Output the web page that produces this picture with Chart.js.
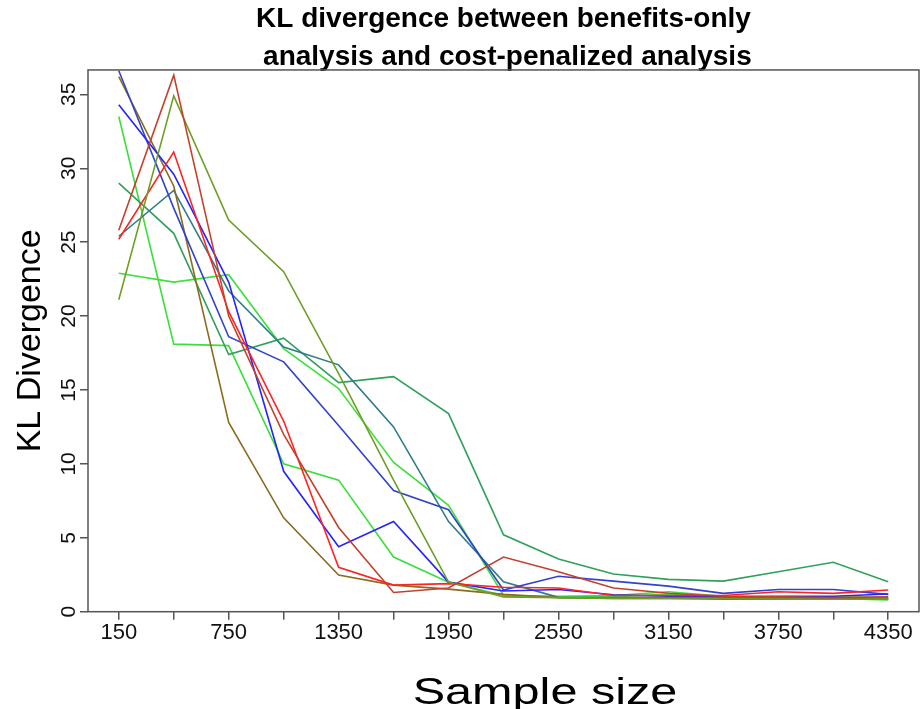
<!DOCTYPE html>
<html lang="en">
<head>
    <meta charset="UTF-8">
    <title>KL divergence</title>
    <script src="https://cdn.jsdelivr.net/npm/chart.js"></script>
    <style>
        body { margin: 0; background: #fff; }
        canvas { display: block; }
    </style>
</head>
<body>
    <canvas id="klChart" width="920" height="709"></canvas>

    <script>
        // sample sizes (x) and tick marks
        const sampleSizes = [150, 450, 750, 1050, 1350, 1650, 1950, 2250, 2550, 2850, 3150, 3450, 3750, 4050, 4350];
        const xLabelled = [150, 750, 1350, 1950, 2550, 3150, 3750, 4350];
        const yTicks = [0, 5, 10, 15, 20, 25, 30, 35];

        // one array per run
        const runFirebrick = [25.8, 36.3, 20.0, 12.0, 5.7, 1.3, 1.6, 3.7, 2.7, 1.6, 1.25, 1.05, 1.0, 0.95, 1.0];
        const runOlive     = [21.1, 34.9, 26.5, 23.0, 16.1, 8.9, 2.0, 1.0, 0.95, 0.9, 0.9, 0.9, 0.85, 0.85, 0.85];
        const runRed       = [25.2, 31.1, 20.3, 12.9, 3.0, 1.8, 1.9, 1.65, 1.6, 1.1, 1.1, 1.1, 1.35, 1.24, 1.47];
        const runBlue      = [34.3, 29.6, 22.3, 9.5, 4.4, 6.1, 2.0, 1.4, 1.5, 1.15, 1.05, 1.0, 1.05, 1.05, 1.2];
        const runRoyal     = [36.6, 27.3, 18.6, 16.9, 12.6, 8.2, 6.9, 1.47, 2.4, 2.07, 1.73, 1.24, 1.5, 1.5, 1.17];
        const runBrown     = [36.2, 28.8, 12.8, 6.35, 2.48, 1.8, 1.53, 1.17, 0.95, 0.9, 0.9, 0.85, 0.85, 0.85, 0.85];
        const runTeal      = [25.4, 28.5, 21.7, 17.9, 16.7, 12.5, 6.1, 2.03, 0.97, 0.95, 0.95, 0.9, 0.9, 0.9, 0.9];
        const runSeaGreen  = [29.0, 25.6, 17.4, 18.5, 15.5, 15.9, 13.4, 5.2, 3.56, 2.55, 2.19, 2.07, 2.7, 3.34, 2.03];
        const runLimeA     = [33.5, 18.1, 18.0, 10.0, 8.9, 3.7, 2.0, 1.1, 1.0, 1.0, 1.2, 1.0, 0.95, 0.9, 0.8];
        const runLimeB     = [22.9, 22.3, 22.8, 17.8, 15.1, 10.1, 7.2, 1.1, 1.05, 1.1, 1.35, 1.05, 1.0, 1.0, 0.95];

        const runs = [
            { data: runFirebrick, color: '#C4402B' },
            { data: runOlive, color: '#6E9E26' },
            { data: runRed, color: '#FF2424' },
            { data: runBlue, color: '#2424FF' },
            { data: runRoyal, color: '#3043CC' },
            { data: runBrown, color: '#8C6B1F' },
            { data: runTeal, color: '#2F7C8A' },
            { data: runSeaGreen, color: '#30A05C' },
            { data: runLimeA, color: '#3ADF3A' },
            { data: runLimeB, color: '#3EE03E' }
        ];

        const fontFamily = '"Liberation Sans", Arial, Helvetica, sans-serif';

        // frame around plot, rotated y tick labels and the wide x label (R style)
        const rFrame = {
            id: 'rFrame',
            afterDraw(chart) {
                const { ctx, chartArea: a, scales: { y } } = chart;
                ctx.save();
                ctx.strokeStyle = '#555';
                ctx.lineWidth = 1.5;
                ctx.strokeRect(a.left, a.top, a.right - a.left, a.bottom - a.top);
                ctx.fillStyle = '#111';
                ctx.font = '21px ' + fontFamily;
                ctx.textAlign = 'center';
                ctx.textBaseline = 'alphabetic';
                y.ticks.forEach(t => {
                    const py = y.getPixelForValue(t.value);
                    ctx.save();
                    ctx.translate(a.left - 13, py);
                    ctx.rotate(-Math.PI / 2);
                    ctx.fillText(String(t.value), 0, 0);
                    ctx.restore();
                });

                // x axis label, stretched like the original export
                ctx.fillStyle = '#000';
                ctx.font = '36px ' + fontFamily;
                ctx.translate(545, 704);
                ctx.scale(1.35, 1);
                ctx.fillText('Sample size', 0, 0);
                ctx.restore();
            }
        };

        const ctx = document.getElementById('klChart').getContext('2d');
        new Chart(ctx, {
            type: 'line',
            data: {
                datasets: runs.map(r => ({
                    data: sampleSizes.map((s, i) => ({ x: s, y: r.data[i] })),
                    borderColor: r.color,
                    borderWidth: 1.6,
                    pointRadius: 0,
                    tension: 0,
                    fill: false
                }))
            },
            plugins: [rFrame],
            options: {
                responsive: false,
                animation: false,
                layout: { padding: { top: 0, right: 1, bottom: 0, left: 0 } },
                plugins: {
                    legend: { display: false },
                    tooltip: { enabled: false },
                    title: {
                        display: true,
                        fullSize: false,
                        text: ['KL divergence between benefits-only', ' analysis and cost-penalized analysis'],
                        color: '#000',
                        font: { family: fontFamily, size: 28, weight: 'bold', lineHeight: 1.36 },
                        padding: { top: 0, bottom: -6.2 }
                    }
                },
                scales: {
                    x: {
                        type: 'linear',
                        min: -18,
                        max: 4518,
                        afterBuildTicks: scale => { scale.ticks = sampleSizes.map(v => ({ value: v })); },
                        afterFit: scale => { scale.height = 97.3; },
                        ticks: {
                            autoSkip: false,
                            maxRotation: 0,
                            padding: 0,
                            color: '#111',
                            font: { family: fontFamily, size: 22 },
                            callback: v => xLabelled.includes(v) ? String(v) : ''
                        },
                        grid: { drawOnChartArea: false, drawTicks: true, tickLength: 8, color: '#555', lineWidth: 1.5 },
                        border: { display: false },
                        title: { display: false, text: 'Sample size' }
                    },
                    y: {
                        min: 0,
                        max: 36.65,
                        afterBuildTicks: scale => { scale.ticks = yTicks.map(v => ({ value: v })); },
                        afterFit: scale => { scale.width = 88; },
                        ticks: { display: false },
                        grid: { drawOnChartArea: false, drawTicks: true, tickLength: 8, color: '#555', lineWidth: 1.5 },
                        border: { display: false },
                        title: {
                            display: true,
                            text: 'KL Divergence',
                            color: '#000',
                            font: { family: fontFamily, size: 34 },
                            padding: { top: 10, bottom: 0 }
                        }
                    }
                }
            }
        });
    </script>
</body>
</html>
